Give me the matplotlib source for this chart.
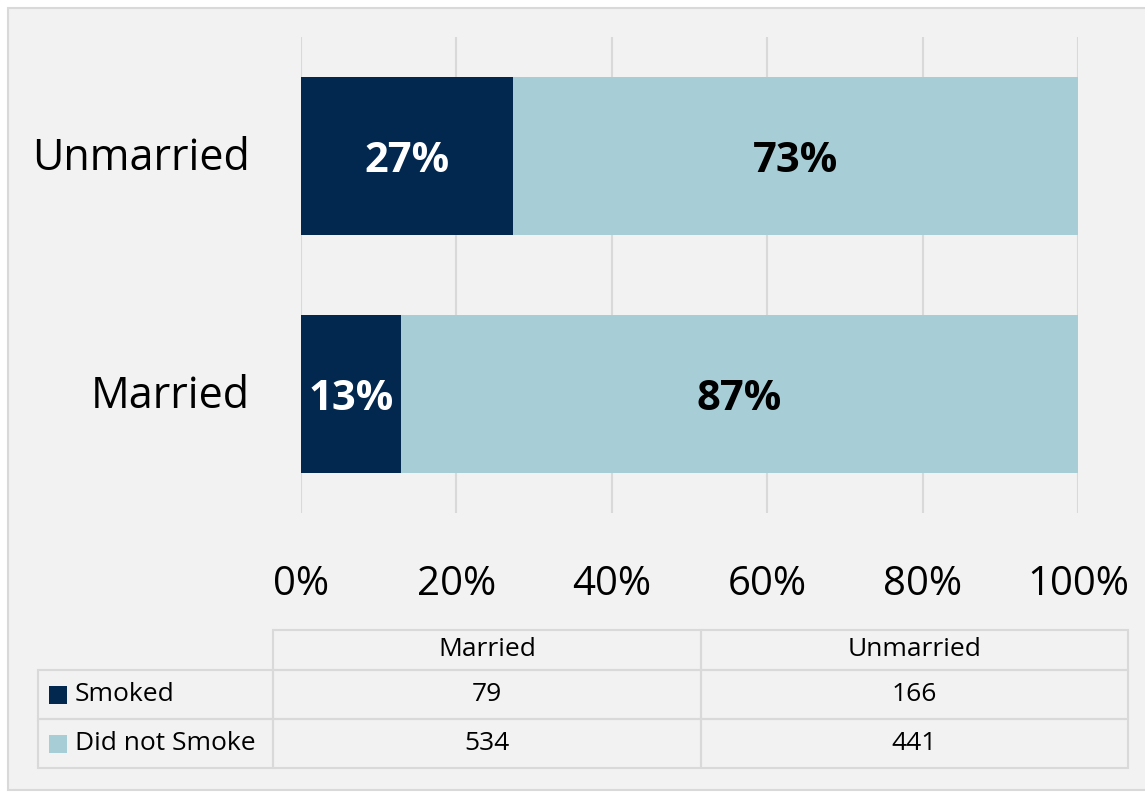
import matplotlib
matplotlib.use("Agg")
import matplotlib.pyplot as plt
from matplotlib.patches import Rectangle
from matplotlib.transforms import ScaledTranslation
import numpy as np

# ---- data ----
categories = ["Married", "Unmarried"]
series_names = ["Smoked", "Did not Smoke"]
smoked = [79, 166]
not_smoked = [534, 441]
tick_values = [0, 20, 40, 60, 80, 100]
tick_labels = ["0%", "20%", "40%", "60%", "80%", "100%"]

dark = "#02284f"
light = "#a7cdd6"
bg = "#f2f2f2"
grid = "#d9d9d9"
FONT = ["Open Sans", "DejaVu Sans"]
plt.rcParams["font.family"] = FONT

W, H = 1145, 793
fig = plt.figure(figsize=(W / 100, H / 100), dpi=100)
fig.patch.set_facecolor("white")

# background frame
frame = fig.add_axes([0, 0, 1, 1], zorder=0)
frame.set_xlim(0, W); frame.set_ylim(H, 0); frame.axis("off")
frame.add_patch(Rectangle((8, 8), W + 20, 782, facecolor=bg, edgecolor=grid, lw=1.5))

# main bar chart
ax = fig.add_axes([301 / W, (H - 513) / H, (1078 - 301) / W, (513 - 37) / H], zorder=1)
ax.set_facecolor("none")
tot = np.array(smoked) + np.array(not_smoked)
p_s = np.array(smoked) / tot * 100
p_n = np.array(not_smoked) / tot * 100
y = np.arange(len(categories))
ax.barh(y, p_s, height=0.667, color=dark, zorder=2)
ax.barh(y, p_n, left=p_s, height=0.667, color=light, zorder=2)
down = ScaledTranslation(0, -6 / 100, fig.dpi_scale_trans)
for i in range(len(categories)):
    ax.text(p_s[i] / 2, y[i], f"{p_s[i]:.0f}%", ha="center", va="center",
            color="white", fontsize=30, fontweight="bold", zorder=3,
            transform=ax.transData + down)
    ax.text(p_s[i] + p_n[i] / 2, y[i], f"{p_n[i]:.0f}%", ha="center", va="center",
            color="black", fontsize=30, fontweight="bold", zorder=3,
            transform=ax.transData + down)
ax.set_xlim(0, 100)
ax.set_ylim(-0.5, len(categories) - 0.5)
ax.set_xticks(tick_values)
ax.set_xticklabels(tick_labels, fontsize=29)
ax.set_yticks(y)
ax.set_yticklabels(categories, fontsize=31)
ax.tick_params(axis="x", length=0, pad=37)
ax.tick_params(axis="y", length=0, pad=37)
up = ScaledTranslation(0, 3 / 100, fig.dpi_scale_trans)
for lbl in ax.get_yticklabels():
    lbl.set_transform(lbl.get_transform() + up)
for s in ax.spines.values():
    s.set_visible(False)
ax.grid(axis="x", color=grid, lw=1.5, zorder=0)
ax.set_axisbelow(True)

# data table
tb = fig.add_axes([0, 0, 1, 1], zorder=2)
tb.set_xlim(0, W); tb.set_ylim(H, 0); tb.axis("off")
col_edges = [38, 273, 701, 1128]
row_edges = [630, 670, 719, 768]
fs = 19
# header
for j, cat in enumerate(categories):
    x0, x1 = col_edges[j + 1], col_edges[j + 2]
    tb.add_patch(Rectangle((x0, row_edges[0]), x1 - x0, row_edges[1] - row_edges[0],
                           facecolor="none", edgecolor=grid, lw=1.5))
    tb.text((x0 + x1) / 2, (row_edges[0] + row_edges[1]) / 2, cat,
            ha="center", va="center", fontsize=fs)
rows = [smoked, not_smoked]
colors = [dark, light]
for i, name in enumerate(series_names):
    y0, y1 = row_edges[i + 1], row_edges[i + 2]
    yc = (y0 + y1) / 2
    tb.add_patch(Rectangle((col_edges[0], y0), col_edges[1] - col_edges[0], y1 - y0,
                           facecolor="none", edgecolor=grid, lw=1.5))
    tb.add_patch(Rectangle((49, yc - 9), 18, 18, facecolor=colors[i], edgecolor="none"))
    tb.text(75, yc, name, ha="left", va="center", fontsize=fs)
    for j in range(len(categories)):
        x0, x1 = col_edges[j + 1], col_edges[j + 2]
        tb.add_patch(Rectangle((x0, y0), x1 - x0, y1 - y0,
                               facecolor="none", edgecolor=grid, lw=1.5))
        tb.text((x0 + x1) / 2, yc, str(rows[i][j]), ha="center", va="center", fontsize=fs)

fig.savefig("out.png", dpi=100, facecolor=fig.get_facecolor())
